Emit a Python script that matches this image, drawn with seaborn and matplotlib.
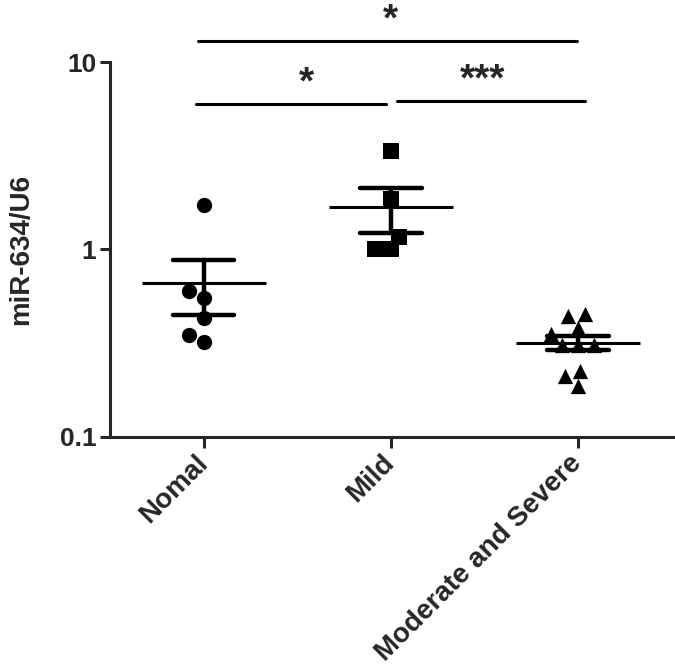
import numpy as np
import pandas as pd
import seaborn as sns
import matplotlib.pyplot as plt
from matplotlib.ticker import NullLocator

# values (miR-634/U6, log scale)
groups = ["Nomal", "Mild", "Moderate and Severe"]
nomal = [1.72, 0.60, 0.55, 0.43, 0.35, 0.32]
mild = [3.35, 1.85, 1.17, 1.0, 1.0]
mod_sev = [0.45, 0.44, 0.38, 0.355, 0.31, 0.31, 0.31, 0.225, 0.21, 0.187]
markers = ["o", "s", "^"]

# significance brackets: bar start, bar end, height, label position, label
br_start = [-0.03, -0.04, 1.035]
br_end = [1.995, 0.975, 2.04]
br_height = [12.9, 6.0, 6.2]
br_text_x = [1.0, 0.55, 1.49]
br_label = ["*", "*", "***"]

df = pd.concat([
    pd.DataFrame({"group": g, "value": v})
    for g, v in zip(groups, [nomal, mild, mod_sev])
], ignore_index=True)

sns.set_theme(style="ticks")
plt.rcParams["font.family"] = ["Liberation Sans", "DejaVu Sans"]
plt.rcParams["font.weight"] = "bold"

fig = plt.figure(figsize=(6.75, 6.72), dpi=100)
ax = fig.add_axes([0.163, 0.35, 0.837, 0.5577])

# mean +/- SEM (computed on linear values, before switching to log)
sns.pointplot(data=df, x="group", y="value", order=groups, errorbar="se",
              capsize=0.33, color="black", linestyle="none", marker="_",
              markersize=89, markeredgewidth=2.2,
              err_kws={"linewidth": 3.2}, ax=ax)

ax.set_yscale("log")

for g, m in zip(groups, markers):
    sub = df[df["group"] == g]
    sns.swarmplot(data=sub, x="group", y="value", order=groups, marker=m,
                  size=11, color="black", ax=ax)

ax.set_ylim(0.1, 10)
ax.set_xlim(-0.5, 2.52)
ax.set_yticks([0.1, 1, 10])
ax.set_yticklabels(["0.1", "1", "10"])
ax.yaxis.set_minor_locator(NullLocator())

sns.despine(ax=ax)
for s in ["left", "bottom"]:
    ax.spines[s].set_linewidth(2.2)
ax.tick_params(width=2.2, length=7, labelsize=19, pad=3)
ax.tick_params(axis="x", length=8, labelsize=20, pad=8)
for lab in ax.get_xticklabels():
    lab.set_rotation(45)
    lab.set_ha("right")
    lab.set_va("center")
    lab.set_rotation_mode("anchor")
    lab.set_fontweight("bold")

ax.set_xlabel("")
ax.set_ylabel("miR-634/U6", fontsize=20, fontweight="bold", labelpad=18)

for x1, x2, h, tx, lab in zip(br_start, br_end, br_height, br_text_x, br_label):
    ax.plot([x1, x2], [h, h], color="black", lw=2.2, clip_on=False)
    ax.text(tx, h * 1.03, lab, ha="center", va="bottom",
            fontsize=28, clip_on=False)

fig.savefig("out.png", dpi=100)
